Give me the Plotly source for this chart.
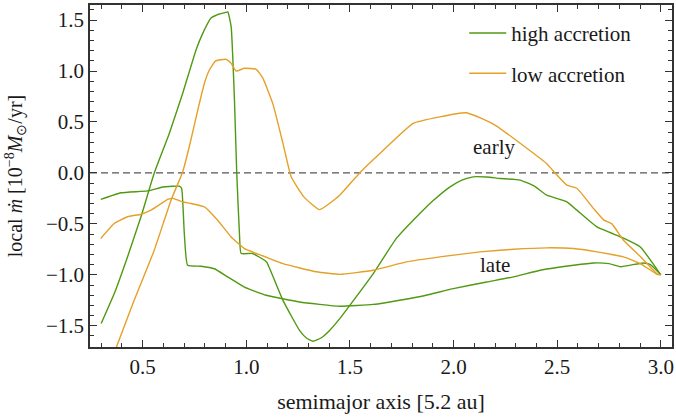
import plotly.graph_objects as go

# high accretion, early
hi_early_x = [0.30, 0.363, 0.427, 0.492, 0.556, 0.629, 0.693, 0.758, 0.79, 0.83, 0.87, 0.90, 0.911,
              0.927, 0.943, 0.954, 0.967, 0.975, 1.03, 1.088, 1.10, 1.177, 1.257, 1.29, 1.322, 1.36,
              1.402, 1.451, 1.612, 1.725, 1.853, 1.902, 1.983, 2.04, 2.095, 2.16, 2.224, 2.321, 2.39,
              2.45, 2.547, 2.595, 2.692, 2.82, 2.901, 3.0]
hi_early_y = [-1.478, -1.184, -0.824, -0.43, 0.0, 0.39, 0.78, 1.21, 1.37, 1.52, 1.56, 1.575, 1.58,
              1.435, 0.715, 0.0, -0.594, -0.79, -0.79, -0.857, -0.88, -1.25, -1.545, -1.62, -1.652, -1.62,
              -1.545, -1.43, -0.99, -0.64, -0.365, -0.27, -0.136, -0.07, -0.038, -0.04, -0.054, -0.07, -0.13,
              -0.218, -0.284, -0.365, -0.53, -0.64, -0.726, -1.0]

# high accretion, late
hi_late_x = [0.298, 0.395, 0.524, 0.604, 0.677, 0.688, 0.701, 0.717, 0.782, 0.846, 0.91, 0.991, 1.096,
             1.257, 1.451, 1.612, 1.692, 1.853, 1.999, 2.16, 2.289, 2.418, 2.579, 2.676, 2.75, 2.805,
             2.917, 2.95, 3.0]
hi_late_y = [-0.26, -0.195, -0.176, -0.136, -0.13, -0.15, -0.594, -0.906, -0.915, -0.94, -1.02, -1.12, -1.2,
             -1.266, -1.308, -1.29, -1.266, -1.207, -1.135, -1.07, -1.02, -0.955, -0.906, -0.883, -0.89, -0.92,
             -0.883, -0.9, -1.0]

# low accretion, early
lo_early_x = [0.36, 0.459, 0.556, 0.637, 0.693, 0.725, 0.766, 0.798, 0.822, 0.851, 0.903, 0.927, 0.951,
              0.991, 1.048, 1.08, 1.128, 1.177, 1.217, 1.28, 1.354, 1.451, 1.547, 1.66, 1.805, 1.934, 2.06,
              2.14, 2.208, 2.289, 2.45, 2.49, 2.547, 2.595, 2.676, 2.724, 2.764, 2.82, 2.901, 2.982, 3.0]
lo_early_y = [-1.78, -1.25, -0.758, -0.267, 0.01, 0.257, 0.617, 0.88, 1.01, 1.098, 1.115, 1.075, 1.0,
              1.027, 1.017, 0.93, 0.68, 0.29, -0.04, -0.24, -0.36, -0.218, 0.0, 0.22, 0.486, 0.55, 0.59,
              0.53, 0.46, 0.34, 0.09, 0.0, -0.12, -0.15, -0.35, -0.46, -0.5, -0.66, -0.82, -0.99, -1.0]

# low accretion, late
lo_late_x = [0.298, 0.363, 0.427, 0.492, 0.54, 0.621, 0.645, 0.661, 0.693, 0.733, 0.798, 0.862, 0.927,
             0.991, 1.031, 1.177, 1.338, 1.451, 1.612, 1.773, 1.934, 2.128, 2.289, 2.45, 2.579, 2.692,
             2.82, 2.901, 2.982, 3.0]
lo_late_y = [-0.643, -0.496, -0.43, -0.405, -0.365, -0.26, -0.25, -0.26, -0.284, -0.3, -0.333, -0.464, -0.628,
             -0.742, -0.775, -0.89, -0.97, -0.995, -0.955, -0.873, -0.824, -0.775, -0.749, -0.735, -0.742, -0.775,
             -0.824, -0.889, -0.995, -1.0]

x_ticks = [0.5, 1.0, 1.5, 2.0, 2.5, 3.0]
y_ticks = [-1.5, -1.0, -0.5, 0.0, 0.5, 1.0, 1.5]

GREEN = "#4f9a12"
ORANGE = "#e5a027"
FONT = "Liberation Serif"
TXT = "#1a1a1a"
FS = 21

fig = go.Figure()
line_kw = dict(width=1.4, shape="spline", smoothing=0.4)
fig.add_trace(go.Scatter(x=hi_early_x, y=hi_early_y, mode="lines", name="high accretion",
                         legendgroup="high", line=dict(color=GREEN, **line_kw)))
fig.add_trace(go.Scatter(x=hi_late_x, y=hi_late_y, mode="lines", name="high accretion",
                         legendgroup="high", showlegend=False, line=dict(color=GREEN, **line_kw)))
fig.add_trace(go.Scatter(x=lo_early_x, y=lo_early_y, mode="lines", name="low accretion",
                         legendgroup="low", line=dict(color=ORANGE, **line_kw)))
fig.add_trace(go.Scatter(x=lo_late_x, y=lo_late_y, mode="lines", name="low accretion",
                         legendgroup="low", showlegend=False, line=dict(color=ORANGE, **line_kw)))

fig.add_shape(type="line", xref="paper", x0=0, x1=1, yref="y", y0=0, y1=0,
              line=dict(color="#555555", width=1.3, dash="7px,4px"), layer="below")

fig.add_annotation(x=2.195, y=0.253, text="early", showarrow=False,
                   font=dict(family=FONT, size=FS, color=TXT))
fig.add_annotation(x=2.2, y=-0.906, text="late", showarrow=False,
                   font=dict(family=FONT, size=FS, color=TXT))

axis_common = dict(showline=True, linecolor="#333333", linewidth=1.5, mirror="allticks",
                   ticks="inside", ticklen=7, tickwidth=1.2, tickcolor="#333333",
                   showgrid=False, zeroline=False, automargin=False,
                   tickfont=dict(family=FONT, size=FS, color=TXT),
                   minor=dict(ticks="inside", ticklen=4, tickwidth=1, tickcolor="#333333", dtick=0.1))

fig.update_xaxes(range=[0.246, 3.054], tickvals=x_ticks, ticktext=[f"{v:.1f}" for v in x_ticks],
                 title=dict(text="semimajor axis [5.2 au]", font=dict(family=FONT, size=22, color=TXT),
                            standoff=16),
                 **axis_common)
fig.update_yaxes(range=[-1.708, 1.648], tickvals=y_ticks,
                 ticktext=[("\u2212" if v < 0 else "") + f"{abs(v):.1f}" for v in y_ticks],
                 title=dict(text="local <i>\u1e41</i> [10<sup>\u22128</sup><i>M</i><sub>\u2299</sub>/yr]",
                            font=dict(family=FONT, size=20, color=TXT), standoff=18),
                 **axis_common)

fig.update_layout(
    width=676, height=419,
    margin=dict(l=90, r=4, t=5, b=72),
    font=dict(family=FONT, size=FS, color=TXT),
    paper_bgcolor="white", plot_bgcolor="white",
    showlegend=True,
    legend=dict(x=0.643, y=0.977, xanchor="left", yanchor="top", bgcolor="rgba(0,0,0,0)",
                font=dict(family=FONT, size=FS, color=TXT), itemwidth=37,
                traceorder="grouped", tracegroupgap=10),
)

fig.write_html("out.html", config={"displayModeBar": False},
               post_script="document.body.style.margin='0';document.body.style.padding='0';")
